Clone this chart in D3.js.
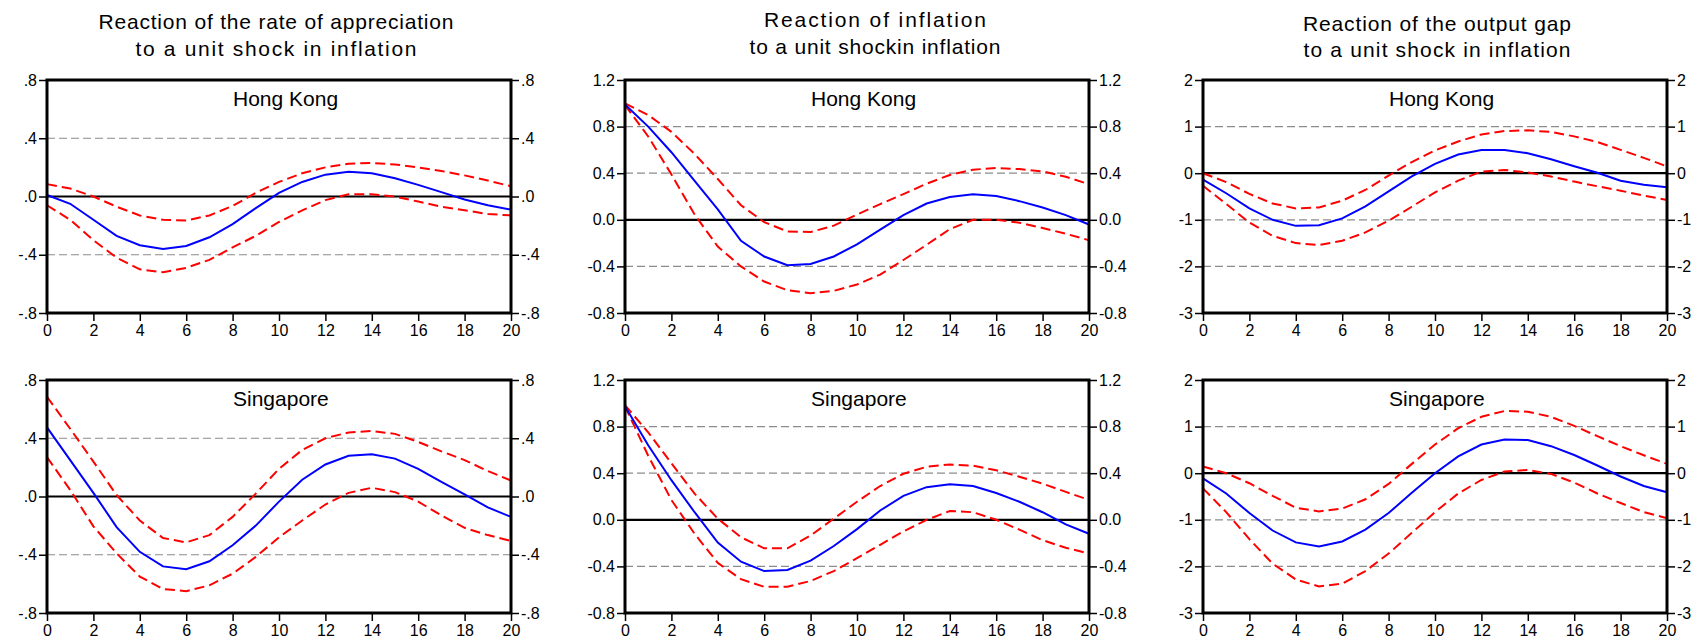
<!DOCTYPE html>
<html>
<head>
<meta charset="utf-8">
<script src="https://cdn.jsdelivr.net/npm/d3@7"></script>
<style>
  body { margin: 0; background: #fff; }
  svg { display: block; }
  text { font-family: "Liberation Sans", Arial, sans-serif; fill: #000; }
  .tick text { font-size: 16px; }
  .tick line { stroke: #000; stroke-width: 1.5; }
</style>
</head>
<body>
<svg id="chart" width="1703" height="644"></svg>
<script>
// horizons and ticks
const horizon = [0, 1, 2, 3, 4, 5, 6, 7, 8, 9, 10, 11, 12, 13, 14, 15, 16, 17, 18, 19, 20];
const xTicks = [0, 2, 4, 6, 8, 10, 12, 14, 16, 18, 20];

const apprTicks = [-0.8, -0.4, 0, 0.4, 0.8];
const apprLabels = ["-.8", "-.4", ".0", ".4", ".8"];
const inflTicks = [-0.8, -0.4, 0, 0.4, 0.8, 1.2];
const inflLabels = ["-0.8", "-0.4", "0.0", "0.4", "0.8", "1.2"];
const gapTicks = [-3, -2, -1, 0, 1, 2];
const gapLabels = ["-3", "-2", "-1", "0", "1", "2"];

const colTitles = [
  ["Reaction of the rate of appreciation", "to a unit shock in inflation"],
  ["Reaction of inflation", "to a unit shockin inflation"],
  ["Reaction of the output gap", "to a unit shock in inflation"]
];
const rowNames = ["Hong Kong", "Singapore"];

// Hong Kong: rate of appreciation
const hkApprMid = [0.01, -0.05, -0.16, -0.27, -0.335, -0.36, -0.34, -0.28, -0.19, -0.08, 0.025, 0.10, 0.15, 0.17, 0.16, 0.125, 0.08, 0.03, -0.02, -0.06, -0.09];
const hkApprUp = [0.085, 0.055, 0.0, -0.07, -0.13, -0.16, -0.165, -0.13, -0.065, 0.025, 0.10, 0.16, 0.20, 0.225, 0.23, 0.22, 0.20, 0.175, 0.145, 0.11, 0.07];
const hkApprLo = [-0.06, -0.16, -0.30, -0.42, -0.50, -0.52, -0.49, -0.435, -0.35, -0.27, -0.175, -0.095, -0.025, 0.015, 0.015, 0.0, -0.035, -0.07, -0.095, -0.12, -0.13];

// Hong Kong: inflation
const hkInflMid = [0.99, 0.80, 0.58, 0.335, 0.09, -0.18, -0.315, -0.39, -0.38, -0.315, -0.21, -0.085, 0.04, 0.14, 0.195, 0.22, 0.205, 0.16, 0.105, 0.04, -0.04];
const hkInflUp = [1.0, 0.90, 0.755, 0.565, 0.35, 0.125, -0.02, -0.10, -0.105, -0.05, 0.045, 0.135, 0.22, 0.31, 0.385, 0.43, 0.445, 0.435, 0.415, 0.37, 0.305];
const hkInflLo = [0.985, 0.715, 0.39, 0.045, -0.23, -0.40, -0.53, -0.605, -0.63, -0.61, -0.555, -0.47, -0.345, -0.215, -0.08, 0.0, 0.0, -0.025, -0.07, -0.12, -0.175];

// Hong Kong: output gap
const hkGapMid = [-0.14, -0.43, -0.755, -1.0, -1.13, -1.115, -0.97, -0.71, -0.39, -0.07, 0.20, 0.40, 0.50, 0.50, 0.43, 0.30, 0.15, 0.01, -0.16, -0.25, -0.30];
const hkGapUp = [0.0, -0.19, -0.445, -0.65, -0.755, -0.735, -0.59, -0.36, -0.05, 0.24, 0.49, 0.68, 0.83, 0.905, 0.92, 0.885, 0.79, 0.67, 0.50, 0.33, 0.145];
const hkGapLo = [-0.27, -0.66, -1.06, -1.345, -1.50, -1.54, -1.45, -1.27, -1.02, -0.72, -0.41, -0.16, 0.035, 0.07, 0.015, -0.07, -0.18, -0.28, -0.375, -0.48, -0.575];

// Singapore: rate of appreciation
const sgApprMid = [0.475, 0.25, 0.025, -0.21, -0.38, -0.48, -0.50, -0.445, -0.335, -0.20, -0.035, 0.115, 0.22, 0.28, 0.29, 0.26, 0.19, 0.10, 0.015, -0.075, -0.14];
const sgApprUp = [0.685, 0.465, 0.24, 0.01, -0.165, -0.285, -0.315, -0.265, -0.14, 0.02, 0.19, 0.32, 0.40, 0.44, 0.45, 0.43, 0.375, 0.31, 0.25, 0.175, 0.11];
const sgApprLo = [0.27, 0.045, -0.205, -0.39, -0.55, -0.635, -0.65, -0.61, -0.53, -0.415, -0.28, -0.165, -0.055, 0.025, 0.06, 0.03, -0.035, -0.13, -0.215, -0.265, -0.305];

// Singapore: inflation
const sgInflMid = [0.975, 0.64, 0.34, 0.065, -0.195, -0.36, -0.44, -0.43, -0.35, -0.225, -0.08, 0.08, 0.205, 0.28, 0.305, 0.29, 0.23, 0.155, 0.065, -0.04, -0.12];
const sgInflUp = [0.985, 0.75, 0.485, 0.225, 0.01, -0.15, -0.245, -0.245, -0.135, 0.01, 0.155, 0.29, 0.395, 0.455, 0.475, 0.465, 0.425, 0.37, 0.31, 0.24, 0.17];
const sgInflLo = [0.975, 0.55, 0.17, -0.12, -0.37, -0.51, -0.575, -0.575, -0.525, -0.44, -0.33, -0.215, -0.10, 0.0, 0.075, 0.065, 0.0, -0.085, -0.175, -0.24, -0.29];

// Singapore: output gap
const sgGapMid = [-0.11, -0.435, -0.855, -1.23, -1.485, -1.57, -1.465, -1.21, -0.855, -0.42, 0.0, 0.36, 0.615, 0.725, 0.71, 0.58, 0.39, 0.165, -0.07, -0.275, -0.41];
const sgGapUp = [0.145, 0.0, -0.215, -0.485, -0.74, -0.82, -0.76, -0.56, -0.23, 0.20, 0.615, 0.965, 1.21, 1.335, 1.32, 1.21, 1.015, 0.795, 0.58, 0.385, 0.20];
const sgGapLo = [-0.325, -0.835, -1.415, -1.94, -2.28, -2.43, -2.37, -2.10, -1.725, -1.28, -0.835, -0.435, -0.145, 0.035, 0.07, -0.015, -0.20, -0.435, -0.64, -0.835, -0.965];

const svg = d3.select("#chart");
const colLeft = [47, 625, 1203];
const rowTop = [80, 380];
const plotW = 464;
const plotH = 233;

const titleDx = [-3, 18, 2];
const titleBase = [[29, 56], [27, 54], [31, 57]];
const titleLen = [[355, 281], [222, 251], [268, 267]];

const columns = [
  { ticks: apprTicks, labels: apprLabels, domain: [-0.8, 0.8] },
  { ticks: inflTicks, labels: inflLabels, domain: [-0.8, 1.2] },
  { ticks: gapTicks, labels: gapLabels, domain: [-3, 2] }
];

const panels = [
  { row: 0, col: 0, mid: hkApprMid, up: hkApprUp, lo: hkApprLo },
  { row: 0, col: 1, mid: hkInflMid, up: hkInflUp, lo: hkInflLo },
  { row: 0, col: 2, mid: hkGapMid, up: hkGapUp, lo: hkGapLo },
  { row: 1, col: 0, mid: sgApprMid, up: sgApprUp, lo: sgApprLo },
  { row: 1, col: 1, mid: sgInflMid, up: sgInflUp, lo: sgInflLo },
  { row: 1, col: 2, mid: sgGapMid, up: sgGapUp, lo: sgGapLo }
];

// column titles
colTitles.forEach((lines, c) => {
  const cx = colLeft[c] + plotW / 2 + titleDx[c];
  lines.forEach((t, i) => {
    svg.append("text")
      .attr("x", cx)
      .attr("y", titleBase[c][i])
      .attr("text-anchor", "middle")
      .attr("font-size", 21)
      .attr("textLength", titleLen[c][i])
      .text(t);
  });
});

panels.forEach(p => {
  const colCfg = columns[p.col];
  const g = svg.append("g")
    .attr("transform", "translate(" + colLeft[p.col] + "," + rowTop[p.row] + ")");

  const x = d3.scaleLinear().domain([0, 20]).range([0, plotW]);
  const y = d3.scaleLinear().domain(colCfg.domain).range([plotH, 0]);

  // dashed grid at non-zero inner ticks
  g.selectAll(".grid")
    .data(colCfg.ticks.filter(d => d !== 0 && d !== colCfg.domain[0] && d !== colCfg.domain[1]))
    .join("line")
    .attr("class", "grid")
    .attr("x1", 0).attr("x2", plotW)
    .attr("y1", d => y(d)).attr("y2", d => y(d))
    .attr("stroke", "#8c8c8c")
    .attr("stroke-width", 1.2)
    .attr("stroke-dasharray", "8,4");

  // zero line
  g.append("line")
    .attr("x1", 0).attr("x2", plotW)
    .attr("y1", y(0)).attr("y2", y(0))
    .attr("stroke", "#000")
    .attr("stroke-width", 2.2);

  const fmt = d => colCfg.labels[colCfg.ticks.indexOf(d)];

  const leftAxis = g.append("g")
    .call(d3.axisLeft(y).tickValues(colCfg.ticks).tickFormat(fmt).tickSize(8).tickPadding(2));
  const rightAxis = g.append("g")
    .attr("transform", "translate(" + plotW + ",0)")
    .call(d3.axisRight(y).tickValues(colCfg.ticks).tickFormat(fmt).tickSize(8).tickPadding(2));
  const bottomAxis = g.append("g")
    .attr("transform", "translate(0," + plotH + ")")
    .call(d3.axisBottom(x).tickValues(xTicks).tickFormat(d => d).tickSize(8).tickPadding(4));

  [leftAxis, rightAxis, bottomAxis].forEach(a => {
    a.select(".domain").remove();
    a.attr("font-family", null).attr("font-size", null);
  });

  const line = d3.line()
    .x((d, i) => x(horizon[i]))
    .y(d => y(d));

  g.append("path")
    .datum(p.up)
    .attr("d", line)
    .attr("fill", "none")
    .attr("stroke", "#ff0000")
    .attr("stroke-width", 2)
    .attr("stroke-dasharray", "10,5");

  g.append("path")
    .datum(p.lo)
    .attr("d", line)
    .attr("fill", "none")
    .attr("stroke", "#ff0000")
    .attr("stroke-width", 2)
    .attr("stroke-dasharray", "10,5");

  g.append("path")
    .datum(p.mid)
    .attr("d", line)
    .attr("fill", "none")
    .attr("stroke", "#0000ff")
    .attr("stroke-width", 2);

  // frame
  g.append("rect")
    .attr("x", 0).attr("y", 0)
    .attr("width", plotW).attr("height", plotH)
    .attr("fill", "none")
    .attr("stroke", "#000")
    .attr("stroke-width", 3);

  g.append("text")
    .attr("x", 186)
    .attr("y", 26)
    .attr("font-size", 21)
    .text(rowNames[p.row]);
});
</script>
</body>
</html>
